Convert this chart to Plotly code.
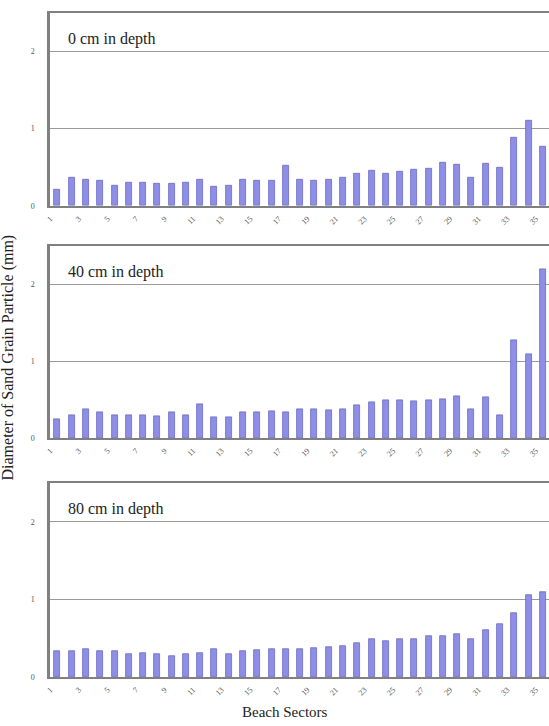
import plotly.graph_objects as go

# Beach sectors 1..35 and mean sand grain diameter (mm) at three depths
sectors = list(range(1, 36))

depth_0cm = [0.21, 0.36, 0.34, 0.325, 0.256, 0.295, 0.30, 0.286, 0.286, 0.30,
             0.34, 0.25, 0.265, 0.34, 0.325, 0.325, 0.52, 0.34, 0.33, 0.34,
             0.36, 0.41, 0.455, 0.42, 0.44, 0.466, 0.48, 0.56, 0.53, 0.37,
             0.54, 0.49, 0.876, 1.107, 0.77]

depth_40cm = [0.24, 0.30, 0.37, 0.34, 0.29, 0.29, 0.29, 0.28, 0.33, 0.29,
              0.44, 0.27, 0.27, 0.34, 0.34, 0.35, 0.34, 0.38, 0.38, 0.36,
              0.38, 0.42, 0.47, 0.485, 0.485, 0.475, 0.485, 0.51, 0.54, 0.37,
              0.53, 0.30, 1.28, 1.09, 2.20]

depth_80cm = [0.333, 0.33, 0.355, 0.33, 0.33, 0.30, 0.31, 0.30, 0.27, 0.29,
              0.31, 0.355, 0.30, 0.33, 0.34, 0.355, 0.355, 0.355, 0.37, 0.385,
              0.395, 0.433, 0.49, 0.46, 0.49, 0.49, 0.525, 0.523, 0.557, 0.49,
              0.60, 0.68, 0.82, 1.06, 1.09]

panel_titles = ["0 cm in depth", "40 cm in depth", "80 cm in depth"]
series = [depth_0cm, depth_40cm, depth_80cm]

y_ticks = [0, 1, 2]
x_tick_sectors = list(range(1, 36, 2))

W, H = 549, 726
LEFT = 50

# panel top / zero-line pixel rows
panels_px = [(12.8, 207.3), (248.0, 441.0), (486.5, 681.7)]

BAR_FILL = "#8e8ee6"
BAR_EDGE = "#6a6ac4"
FRAME = "#808080"
GRID = "#9a9a9a"
SERIF = "Liberation Serif"

fig = go.Figure()
layout = {}
annotations = []

for i, (vals, title, (top, bot)) in enumerate(zip(series, panel_titles, panels_px)):
    n = "" if i == 0 else str(i + 1)
    fig.add_trace(go.Bar(
        x=sectors, y=vals, xaxis="x" + n, yaxis="y" + n,
        width=0.42,
        marker=dict(color=BAR_FILL, line=dict(color=BAR_EDGE, width=0.8)),
        showlegend=False,
    ))
    dom = [1 - bot / H, 1 - top / H]
    layout["xaxis" + n] = dict(
        domain=[0, 1], anchor="y" + n, range=[0.48, 35.43],
        tickmode="array",
        tickvals=[s - 0.5 for s in x_tick_sectors],
        ticktext=[str(s) for s in x_tick_sectors],
        tickangle=-45, ticks="", ticklabelstandoff=3,
        tickfont=dict(family=SERIF, size=8, color="#555"),
        showline=True, linecolor=FRAME, linewidth=2, mirror=True,
        showgrid=False, zeroline=False, fixedrange=True,
    )
    layout["yaxis" + n] = dict(
        domain=dom, anchor="x" + n, range=[0, 2.5],
        tickmode="array", tickvals=y_ticks, ticktext=[str(v) for v in y_ticks],
        ticks="", ticklabelstandoff=11,
        tickfont=dict(family=SERIF, size=8, color="#555"),
        showline=True, linecolor=FRAME, linewidth=2.5,
        showgrid=True, gridcolor=GRID, gridwidth=1,
        zeroline=False, fixedrange=True,
    )
    annotations.append(dict(
        text=title, xref="paper", yref="paper",
        x=16 / (W - LEFT), y=1 - (top + 26) / H,
        xanchor="left", yanchor="middle", showarrow=False,
        font=dict(family=SERIF, size=16, color="#222"),
    ))

# shared axis titles
annotations.append(dict(
    text="Diameter of Sand Grain Particle (mm)", xref="paper", yref="paper",
    x=-(LEFT - 8) / (W - LEFT), y=1 - 360 / H, textangle=-90,
    xanchor="center", yanchor="middle", showarrow=False,
    font=dict(family=SERIF, size=16, color="#222"),
))
annotations.append(dict(
    text="Beach Sectors", xref="paper", yref="paper",
    x=(285 - LEFT) / (W - LEFT), y=1 - 717 / H,
    xanchor="center", yanchor="middle", showarrow=False,
    font=dict(family=SERIF, size=15, color="#222"),
))

fig.update_layout(
    width=W, height=H,
    margin=dict(l=LEFT, r=0, t=0, b=0),
    paper_bgcolor="white", plot_bgcolor="white",
    bargap=0, annotations=annotations,
    **layout,
)

fig.write_html("out.html", config={"displayModeBar": False})
